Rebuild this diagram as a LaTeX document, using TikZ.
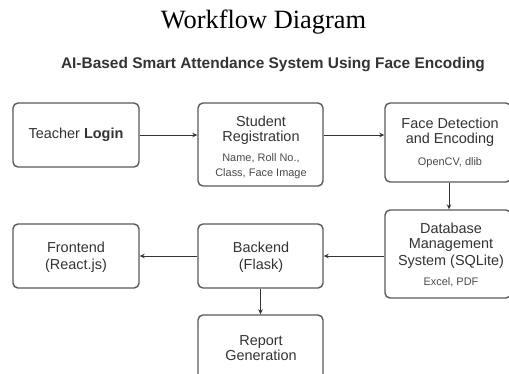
\documentclass[tikz,border=0pt]{standalone}
\usepackage{fontspec}
\setmainfont{Liberation Serif}
\setsansfont{Liberation Sans}
\usetikzlibrary{arrows.meta}
\definecolor{edge}{HTML}{5A5A5A}
\definecolor{ink}{HTML}{333333}
\definecolor{subink}{HTML}{4A4A4A}
\tikzset{
  stagebox/.style={draw=edge, line width=1.4bp, rounded corners=5bp, fill=white, inner sep=0pt},
  head/.style={anchor=base, font=\sffamily\fontsize{14.5}{15}\selectfont, text=ink, inner sep=0pt},
  detail/.style={anchor=base, font=\sffamily\fontsize{11}{12}\selectfont, text=subink, inner sep=0pt},
  flow/.style={draw=ink, line width=0.9bp, -{Stealth[length=5bp,width=4.5bp]}}
}
\begin{document}
\begin{tikzpicture}[x=1bp, y=-1bp]
\useasboundingbox (0,0) rectangle (509,373);
\clip (0,0) rectangle (509,373);
\fill[white] (0,0) rectangle (509,373);

% headings
\node[anchor=base, font=\fontsize{26.5}{28}\selectfont, inner sep=0pt] (title) at (263.5,28) {Workflow Diagram};
\node[anchor=base, font=\sffamily\bfseries\fontsize{15.5}{16}\selectfont, text=ink, inner sep=0pt] (subtitle) at (273,68) {AI-Based Smart Attendance System Using Face Encoding};

% stage boxes
\node[stagebox, minimum width=126bp, minimum height=64bp] (login)  at (76,135)  {};
\node[stagebox, minimum width=125bp, minimum height=83bp] (reg)    at (260.5,144.5) {};
\node[stagebox, minimum width=126bp, minimum height=79bp] (face)   at (448,142.5) {};
\node[stagebox, minimum width=126bp, minimum height=88bp] (db)     at (448,254)  {};
\node[stagebox, minimum width=125bp, minimum height=64bp] (back)   at (260.5,256)  {};
\node[stagebox, minimum width=126bp, minimum height=64bp] (front)  at (76,256)   {};
\node[stagebox, minimum width=125bp, minimum height=80bp] (report) at (260.5,355)  {};

% box texts
\node[head] at (76,138) {Teacher \textbf{Login}};

\node[head] at (261,126) {Student};
\node[head] at (261,141) {Registration};
\node[detail] at (261,161) {Name, Roll No.,};
\node[detail] at (261,176) {Class, Face Image};

\node[head] at (450,128) {Face Detection};
\node[head] at (450,143) {and Encoding};
\node[detail] at (450,165) {OpenCV, dlib};

\node[head] at (451,233) {Database};
\node[head] at (451,248) {Management};
\node[head] at (451,265) {System (SQLite)};
\node[detail] at (451,285) {Excel, PDF};

\node[head] at (261,252) {Backend};
\node[head] at (261,269) {(Flask)};

\node[head] at (76,252) {Frontend};
\node[head] at (76,269) {(React.js)};

\node[head] at (261,345) {Report};
\node[head] at (261,360) {Generation};

% connectors
\draw[flow] (login.east) -- (login.east -| reg.west);
\draw[flow] (reg.east |- login.east) -- (face.west |- login.east);
\draw[flow] (face.south -| 449,0) -- (db.north -| 449,0);
\draw[flow] (db.west |- back.east) -- (back.east);
\draw[flow] (back.west) -- (front.east);
\draw[flow] (back.south) -- (report.north);
\end{tikzpicture}
\end{document}
